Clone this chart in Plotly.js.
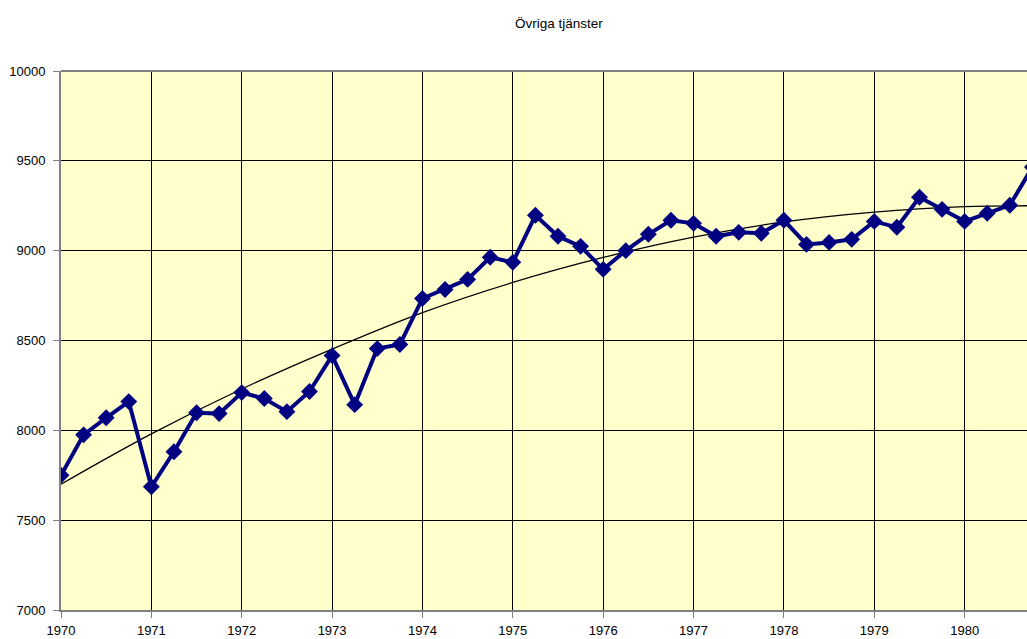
<!DOCTYPE html>
<html>
<head>
<meta charset="utf-8">
<script src="https://cdn.plot.ly/plotly-3.0.1.min.js"></script>
<style>html,body{margin:0;padding:0;background:#fff;}</style>
</head>
<body>
<div id="chart" style="width:1027px;height:639px;"></div>
<script>
// Quarterly observations, 1970 Q1 onward
const quarters = [
  1970.00, 1970.25, 1970.50, 1970.75,
  1971.00, 1971.25, 1971.50, 1971.75,
  1972.00, 1972.25, 1972.50, 1972.75,
  1973.00, 1973.25, 1973.50, 1973.75,
  1974.00, 1974.25, 1974.50, 1974.75,
  1975.00, 1975.25, 1975.50, 1975.75,
  1976.00, 1976.25, 1976.50, 1976.75,
  1977.00, 1977.25, 1977.50, 1977.75,
  1978.00, 1978.25, 1978.50, 1978.75,
  1979.00, 1979.25, 1979.50, 1979.75,
  1980.00, 1980.25, 1980.50, 1980.75
];
const values = [
  7750, 7975, 8070, 8160,
  7686, 7881, 8098, 8093,
  8210, 8177, 8104, 8216,
  8416, 8143, 8455, 8478,
  8734, 8784, 8840, 8963,
  8935, 9197, 9080, 9024,
  8896, 9000, 9091, 9169,
  9152, 9080, 9102, 9097,
  9169, 9035, 9046, 9063,
  9163, 9130, 9297, 9230,
  9163, 9208, 9253, 9465
];
// Trend line
const trendX = [1970, 1971, 1972, 1973, 1974, 1975, 1976, 1977, 1978, 1979, 1980, 1980.75];
const trendY = [7700, 7980, 8230, 8452, 8655, 8823, 8962, 9075, 9160, 9215, 9245, 9250];

const yTicks = [7000, 7500, 8000, 8500, 9000, 9500, 10000];
const xTicks = [1970, 1971, 1972, 1973, 1974, 1975, 1976, 1977, 1978, 1979, 1980];
const titleText = 'Övriga tjänster';

const font = "'Liberation Sans', Arial, sans-serif";

const traces = [
  {
    x: trendX, y: trendY, type: 'scatter', mode: 'lines',
    line: {color: '#000000', width: 1.3, shape: 'spline', smoothing: 1},
    hoverinfo: 'skip', showlegend: false
  },
  {
    x: quarters, y: values, type: 'scatter', mode: 'lines+markers',
    line: {color: '#000080', width: 4},
    marker: {symbol: 'diamond', size: 13, color: '#000080'},
    showlegend: false
  }
];

const layout = {
  width: 1027, height: 639,
  margin: {l: 61, r: 0, t: 71, b: 29, pad: 0},
  paper_bgcolor: '#ffffff',
  plot_bgcolor: '#FFFFCC',
  font: {family: font, size: 13, color: '#000'},
  title: {
    text: titleText,
    font: {family: font, size: 13.5, color: '#000'},
    x: 0.5155, xanchor: 'center', xref: 'paper',
    y: 1 - 23/639, yanchor: 'middle', yref: 'container'
  },
  xaxis: {
    range: [1970, 1980.69],
    tickmode: 'array', tickvals: xTicks, ticktext: xTicks.map(String),
    showgrid: true, gridcolor: '#000000', gridwidth: 1,
    zeroline: false,
    showline: true, linecolor: '#808080', linewidth: 2,
    ticks: 'outside', ticklen: 6, tickcolor: '#808080', tickwidth: 1,
    ticklabelstandoff: 1,
    tickfont: {family: font, size: 13, color: '#000'}
  },
  yaxis: {
    range: [7000, 10000],
    tickmode: 'array', tickvals: yTicks, ticktext: yTicks.map(String),
    showgrid: true, gridcolor: '#000000', gridwidth: 1,
    zeroline: false,
    showline: true, linecolor: '#808080', linewidth: 2,
    ticks: 'outside', ticklen: 6, tickcolor: '#808080', tickwidth: 1,
    ticklabelstandoff: 5,
    tickfont: {family: font, size: 13, color: '#000'}
  },
  shapes: [
    {type: 'line', xref: 'paper', yref: 'paper', x0: 0, x1: 1, y0: 1, y1: 1,
     line: {color: '#808080', width: 2}}
  ]
};

Plotly.newPlot('chart', traces, layout, {displayModeBar: false, staticPlot: true});
</script>
</body>
</html>
